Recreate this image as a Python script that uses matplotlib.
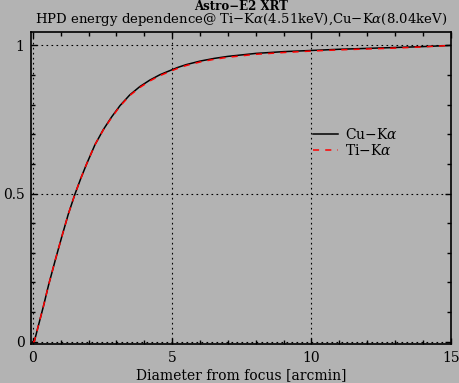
import matplotlib
matplotlib.use("Agg")
import matplotlib.pyplot as plt
from matplotlib.ticker import MultipleLocator

# Data (encircled energy fraction vs diameter)
diam_cu = [0.0, 0.05, 0.2, 0.38, 0.56, 0.8, 1.04, 1.27, 1.51, 1.72, 1.93, 2.23, 2.53,
           2.83, 3.13, 3.48, 3.84, 4.2, 4.56, 4.92, 5.21, 5.5, 6.0, 6.5, 7.0, 7.5,
           8.0, 9.0, 10.0, 11.0, 12.0, 13.0, 14.0, 15.0]
frac_cu = [0.0, 0.0, 0.055, 0.12, 0.19, 0.274, 0.355, 0.43, 0.498, 0.551, 0.600, 0.665, 0.716,
           0.759, 0.797, 0.833, 0.861, 0.883, 0.901, 0.915, 0.926, 0.935, 0.947, 0.956, 0.963, 0.968,
           0.973, 0.979, 0.983, 0.987, 0.990, 0.993, 0.996, 1.0]
diam_ti = [0.0, 0.05, 0.2, 0.38, 0.56, 0.8, 1.04, 1.27, 1.51, 1.72, 1.93, 2.23, 2.53,
           2.83, 3.13, 3.48, 3.84, 4.2, 4.56, 4.92, 5.21, 5.5, 6.0, 6.5, 7.0, 7.5,
           8.0, 9.0, 10.0, 11.0, 12.0, 13.0, 14.0, 15.0]
frac_ti = [0.0, 0.0, 0.055, 0.12, 0.19, 0.274, 0.355, 0.43, 0.498, 0.551, 0.600, 0.665, 0.715,
           0.757, 0.795, 0.831, 0.858, 0.880, 0.898, 0.912, 0.923, 0.932, 0.944, 0.953, 0.960, 0.965,
           0.970, 0.976, 0.981, 0.985, 0.988, 0.991, 0.995, 1.0]

title_top = "Astro\u2212E2 XRT"
title_sub = "HPD energy dependence@ Ti\u2212K$\\alpha$(4.51keV),Cu\u2212K$\\alpha$(8.04keV)"
xlabel = "Diameter from focus [arcmin]"

plt.rcParams['font.family'] = ['DejaVu Serif']
plt.rcParams['mathtext.fontset'] = 'dejavuserif'
bg = '#b3b3b3'

fig = plt.figure(figsize=(4.6, 3.83), dpi=100, facecolor=bg)
ax = fig.add_axes([31.5 / 460, 1 - 344 / 383, (451.5 - 31.5) / 460, (344 - 31.5) / 383])
ax.set_facecolor(bg)

ax.plot(diam_cu, frac_cu, color='black', lw=1.1, label="Cu\u2212K$\\alpha$")
ax.plot(diam_ti, frac_ti, color='red', lw=1.1, dashes=(4, 4), label="Ti\u2212K$\\alpha$")

ax.set_xlim(-0.05, 15.03)
ax.set_ylim(-0.008, 1.047)
ax.xaxis.set_minor_locator(MultipleLocator(1))
ax.yaxis.set_minor_locator(MultipleLocator(0.1))
ax.set_xticks([0, 5, 10, 15])
ax.set_xticklabels(["0", "5", "10", "15"])
ax.set_yticks([0, 0.5, 1])
ax.set_yticklabels(["0", "0.5", "1"])
ax.tick_params(which='both', direction='in', top=True, right=True, width=1, colors='black',
               labelsize=10)
ax.tick_params(which='major', length=4, pad=5)
ax.tick_params(which='minor', length=3)
for s in ax.spines.values():
    s.set_linewidth(1.2)

for xv in [0, 5, 10]:
    ax.axvline(xv, color='black', lw=0.8, dashes=(1.5, 3), zorder=0)
for yv in [0, 0.5, 1]:
    ax.axhline(yv, color='black', lw=0.8, dashes=(1.5, 3), zorder=0)

ax.set_xlabel(xlabel, fontsize=10, labelpad=2)
fig.text(241 / 460, 1 - 6 / 383, title_top, ha='center', va='center', fontsize=8.5, fontweight='bold')
fig.text(241 / 460, 1 - 20 / 383, title_sub, ha='center', va='center', fontsize=9.5)

leg = ax.legend(loc='upper left', bbox_to_anchor=(0.64, 0.735), frameon=False,
                fontsize=10, handlelength=1.8, handletextpad=0.5, labelspacing=0.1)

fig.savefig("out.png", dpi=100, facecolor=bg)
